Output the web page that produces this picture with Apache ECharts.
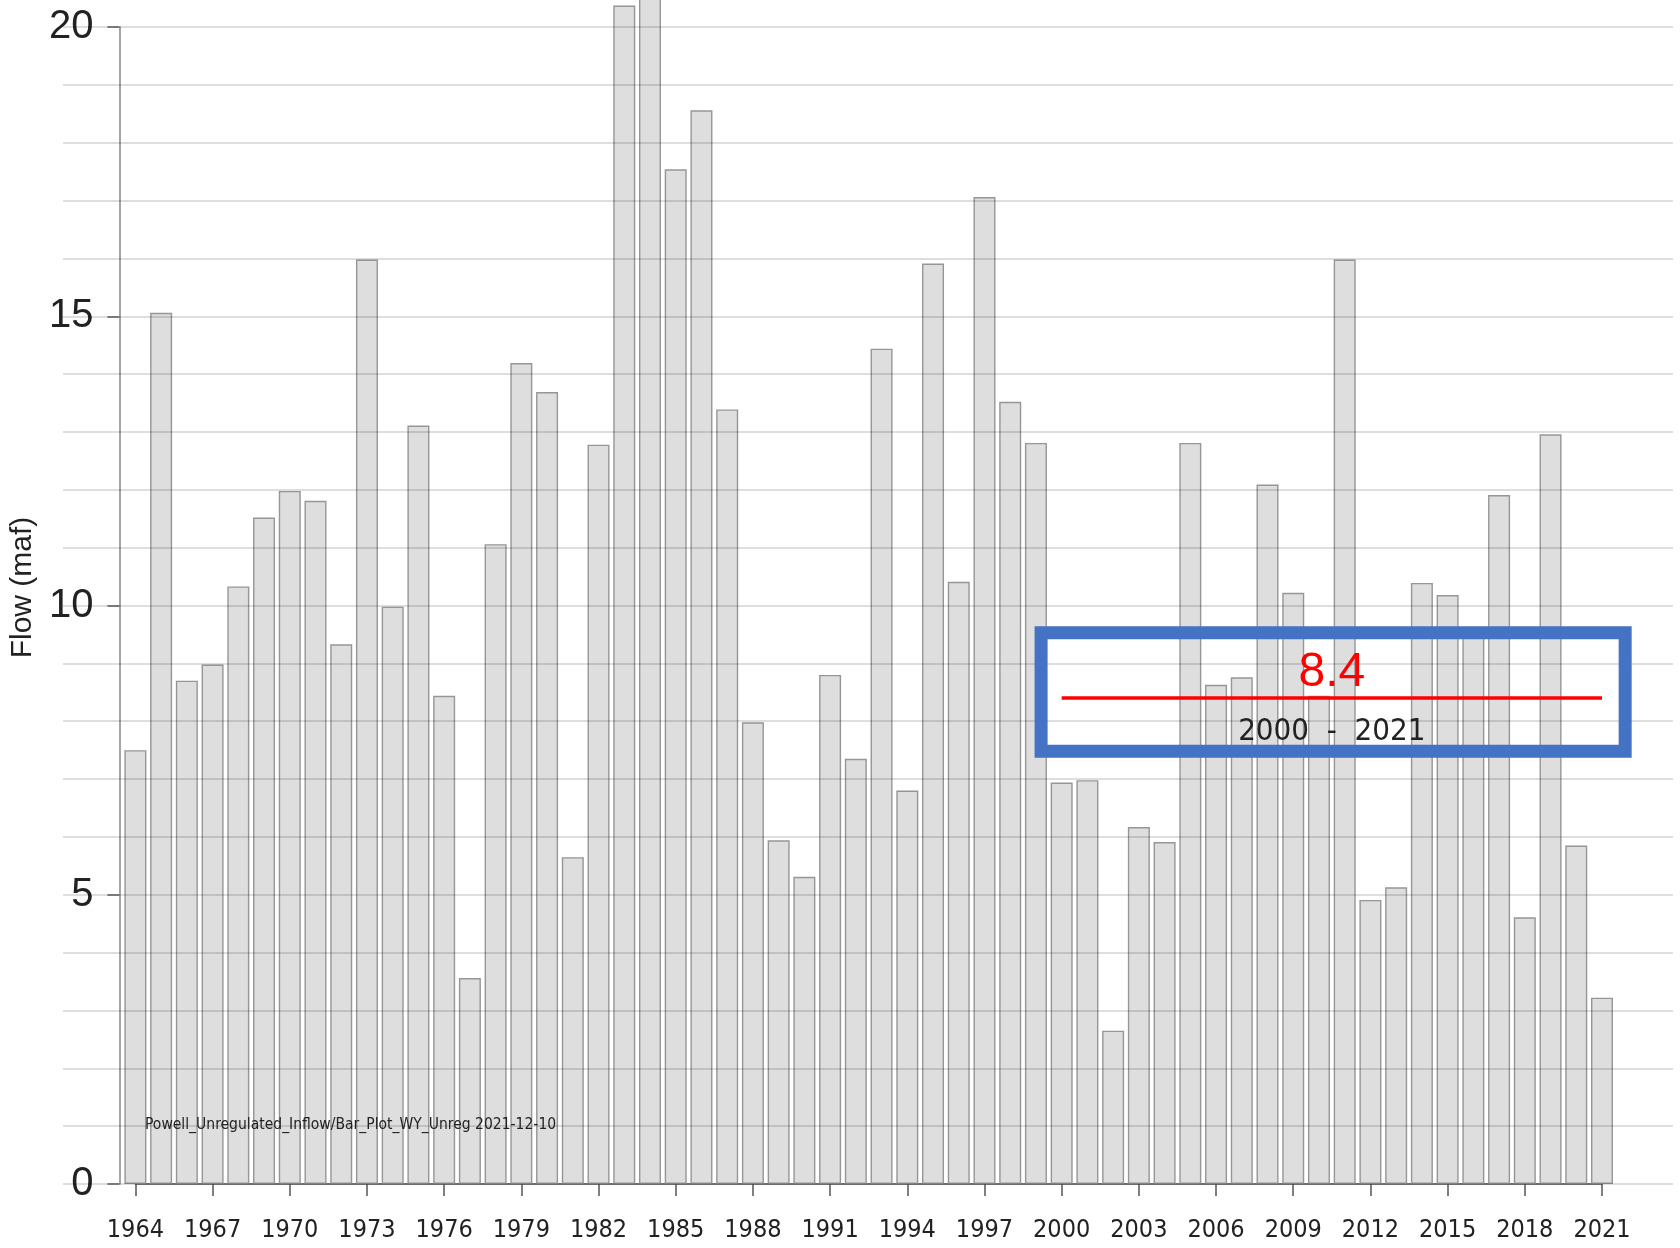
<!DOCTYPE html>
<html>
<head>
<meta charset="utf-8">
<title>Powell Unregulated Inflow</title>
<script src="https://cdn.jsdelivr.net/npm/echarts@6/dist/echarts.min.js"></script>
<style>
    html, body {
        margin: 0;
        padding: 0;
        background: #fff;
    }
    #bar-chart {
        width: 1680px;
        height: 1248px;
    }
</style>
</head>
<body>
<div id="bar-chart"></div>
<script>
    // water years and unregulated inflow (maf)
    const years = [
        1964, 1965, 1966, 1967, 1968, 1969, 1970, 1971, 1972, 1973,
        1974, 1975, 1976, 1977, 1978, 1979, 1980, 1981, 1982, 1983,
        1984, 1985, 1986, 1987, 1988, 1989, 1990, 1991, 1992, 1993,
        1994, 1995, 1996, 1997, 1998, 1999, 2000, 2001, 2002, 2003,
        2004, 2005, 2006, 2007, 2008, 2009, 2010, 2011, 2012, 2013,
        2014, 2015, 2016, 2017, 2018, 2019, 2020, 2021
    ];
    const flow = [
        7.50, 15.06, 8.70, 8.98, 10.33, 11.52, 11.98, 11.81, 9.33, 15.98,
        9.98, 13.11, 8.44, 3.56, 11.06, 14.19, 13.69, 5.65, 12.78, 20.37,
        21.50, 17.54, 18.56, 13.39, 7.98, 5.94, 5.31, 8.80, 7.35, 14.44,
        6.80, 15.91, 10.41, 17.06, 13.52, 12.81, 6.94, 6.98, 2.65, 6.17,
        5.91, 12.81, 8.63, 8.76, 12.09, 10.22, 8.44, 15.98, 4.91, 5.13,
        10.39, 10.18, 9.55, 11.91, 4.61, 12.96, 5.85, 3.22
    ];
    const yTicks = [0, 5, 10, 15, 20];
    const xTickYears = [1964, 1967, 1970, 1973, 1976, 1979, 1982, 1985, 1988, 1991,
        1994, 1997, 2000, 2003, 2006, 2009, 2012, 2015, 2018, 2021];
    const avgRange = [2000, 2021];
    const avgValue = 8.4;

    const narrow = "'Liberation Sans Narrow', 'DejaVu Sans Condensed', sans-serif";
    const regular = "'Liberation Sans', Arial, sans-serif";

    let barChart = echarts.init(document.getElementById('bar-chart'), null, {renderer: 'canvas'});
    let barData = years.map((y, i) => [y, flow[i]]);

    let options = {
        animation: false,
        backgroundColor: '#fff',
        title: {
            text: 'Powell_Unregulated_Inflow/Bar_Plot_WY_Unreg 2021-12-10',
            left: 145,
            top: 1117,
            padding: 0,
            textStyle: {
                fontFamily: narrow,
                fontSize: 15.5,
                fontWeight: 'normal',
                color: '#222'
            }
        },
        grid: [
            // background grid lines, wider than the plot
            {left: 63, right: 7, top: 27, bottom: 64},
            // bars
            {left: 133, right: 78, top: 27, bottom: 64}
        ],
        xAxis: [
            {gridIndex: 0, type: 'value', min: 0, max: 1, show: false},
            {
                gridIndex: 1,
                type: 'value',
                min: xTickYears[0],
                max: xTickYears[xTickYears.length - 1],
                interval: 3,
                offset: 12,
                axisLine: {show: true, lineStyle: {color: '#555', width: 1.5}},
                axisTick: {show: true, length: 12, lineStyle: {color: '#555', width: 1.5}},
                splitLine: {show: false},
                axisLabel: {
                    margin: 22,
                    fontFamily: narrow,
                    fontSize: 25,
                    color: '#222',
                    formatter: v => xTickYears.indexOf(v) >= 0 ? String(v) : ''
                }
            }
        ],
        yAxis: [
            {
                gridIndex: 0,
                type: 'value',
                min: 0,
                max: 20,
                interval: 1,
                z: 3,
                axisLine: {show: false},
                axisTick: {show: false},
                axisLabel: {show: false},
                splitLine: {show: true, lineStyle: {color: 'rgba(0,0,0,0.13)', width: 2}}
            },
            {
                gridIndex: 1,
                type: 'value',
                min: yTicks[0],
                max: yTicks[yTicks.length - 1],
                interval: 5,
                offset: 16,
                name: 'Flow (maf)',
                nameLocation: 'middle',
                nameRotate: 90,
                nameGap: 75,
                nameTextStyle: {
                    fontFamily: regular,
                    fontSize: 30,
                    color: '#222',
                    padding: [0, 0, 0, 36]
                },
                axisLine: {show: true, lineStyle: {color: '#888', width: 1.5}},
                axisTick: {show: true, length: 12, lineStyle: {color: '#666', width: 1.5}},
                splitLine: {show: false},
                axisLabel: {
                    margin: 26,
                    fontFamily: regular,
                    fontSize: 40,
                    color: '#222'
                }
            }
        ],
        series: [
            {
                type: 'bar',
                xAxisIndex: 1,
                yAxisIndex: 1,
                data: barData,
                barWidth: 22,
                clip: false,
                itemStyle: {
                    color: '#dedede',
                    borderColor: '#969696',
                    borderWidth: 1.4
                },
                markLine: {
                    silent: true,
                    symbol: 'none',
                    lineStyle: {color: '#ff0000', width: 3.5, type: 'solid'},
                    data: [
                        [
                            {
                                coord: [avgRange[0], avgValue],
                                label: {
                                    show: true,
                                    position: 'insideMiddleTop',
                                    distance: 1,
                                    formatter: String(avgValue),
                                    fontFamily: regular,
                                    fontSize: 48,
                                    color: '#ff0000'
                                }
                            },
                            {coord: [avgRange[1], avgValue]}
                        ],
                        [
                            {
                                coord: [avgRange[0], avgValue],
                                lineStyle: {color: 'rgba(255,0,0,0)', width: 0},
                                label: {
                                    show: true,
                                    position: 'insideMiddleBottom',
                                    distance: 18,
                                    formatter: avgRange[0] + '  -  ' + avgRange[1],
                                    fontFamily: narrow,
                                    fontSize: 31,
                                    color: '#222'
                                }
                            },
                            {coord: [avgRange[1], avgValue]}
                        ]
                    ]
                }
            }
        ]
    };
    barChart.setOption(options);

    // blue highlight box round the 2000-2021 average
    let p0 = barChart.convertToPixel({xAxisIndex: 1, yAxisIndex: 1}, [1999.2, 9.53]);
    let p1 = barChart.convertToPixel({xAxisIndex: 1, yAxisIndex: 1}, [2021.9, 7.48]);
    barChart.setOption({
        graphic: [{
            type: 'rect',
            z: 100,
            silent: true,
            shape: {x: p0[0], y: p0[1], width: p1[0] - p0[0], height: p1[1] - p0[1]},
            style: {fill: 'none', stroke: '#4472c4', lineWidth: 13}
        }]
    });
</script>
</body>
</html>
